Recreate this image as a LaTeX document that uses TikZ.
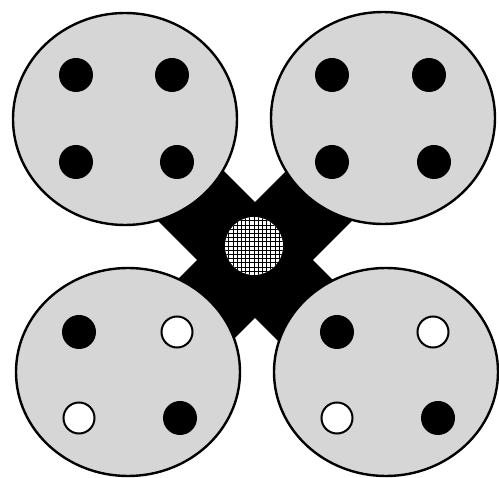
\documentclass[tikz,border=0pt]{standalone}
\definecolor{disc}{RGB}{214,214,214}
\tikzset{
  plate/.style={draw=black, line width=2.4pt, fill=disc},
  fulldot/.style={fill=black},
  opendot/.style={draw=black, line width=2pt, fill=white},
  bar/.style={fill=black},
  meshline/.style={draw=black, line width=0.9pt}
}
\begin{document}
\begin{tikzpicture}[x=1pt,y=-1pt]
\useasboundingbox (0,0) rectangle (499,478);
% cross
\begin{scope}[shift={(255,260)}, rotate=45]
  \fill[bar] (-150,-41) rectangle (150,41);
  \fill[bar] (-41,-150) rectangle (41,150);
\end{scope}
% plates
\draw[plate] (125,119) ellipse [x radius=112pt, y radius=106pt];
\draw[plate] (383,118) ellipse [x radius=112pt, y radius=106pt];
\draw[plate] (128,372) ellipse [x radius=112pt, y radius=104pt];
\draw[plate] (386,372) ellipse [x radius=112pt, y radius=104pt];
% top-left dots
\fill[fulldot] (76,75) circle (17pt);
\fill[fulldot] (172,75) circle (17pt);
\fill[fulldot] (76,162) circle (17pt);
\fill[fulldot] (177,162) circle (17pt);
% top-right dots
\fill[fulldot] (332,75) circle (17pt);
\fill[fulldot] (429,75) circle (17pt);
\fill[fulldot] (332,162) circle (17pt);
\fill[fulldot] (434,162) circle (17pt);
% bottom-left dots
\fill[fulldot] (79,332) circle (17pt);
\draw[opendot] (177,332) circle (15.5pt);
\draw[opendot] (79,418) circle (15.5pt);
\fill[fulldot] (180,418) circle (17pt);
% bottom-right dots
\fill[fulldot] (337,332) circle (17pt);
\draw[opendot] (433,332) circle (15.5pt);
\draw[opendot] (337,418) circle (15.5pt);
\fill[fulldot] (438,418) circle (17pt);
% centre hatched disc
\fill[white] (254,246) circle (29pt);
\begin{scope}
  \clip (254,246) circle (29pt);
  \foreach \k in {-7,...,7} {
    \draw[meshline] (254+4.2*\k,210) -- (254+4.2*\k,282);
    \draw[meshline] (218,246+4.2*\k) -- (290,246+4.2*\k);
  }
\end{scope}
\end{tikzpicture}
\end{document}
